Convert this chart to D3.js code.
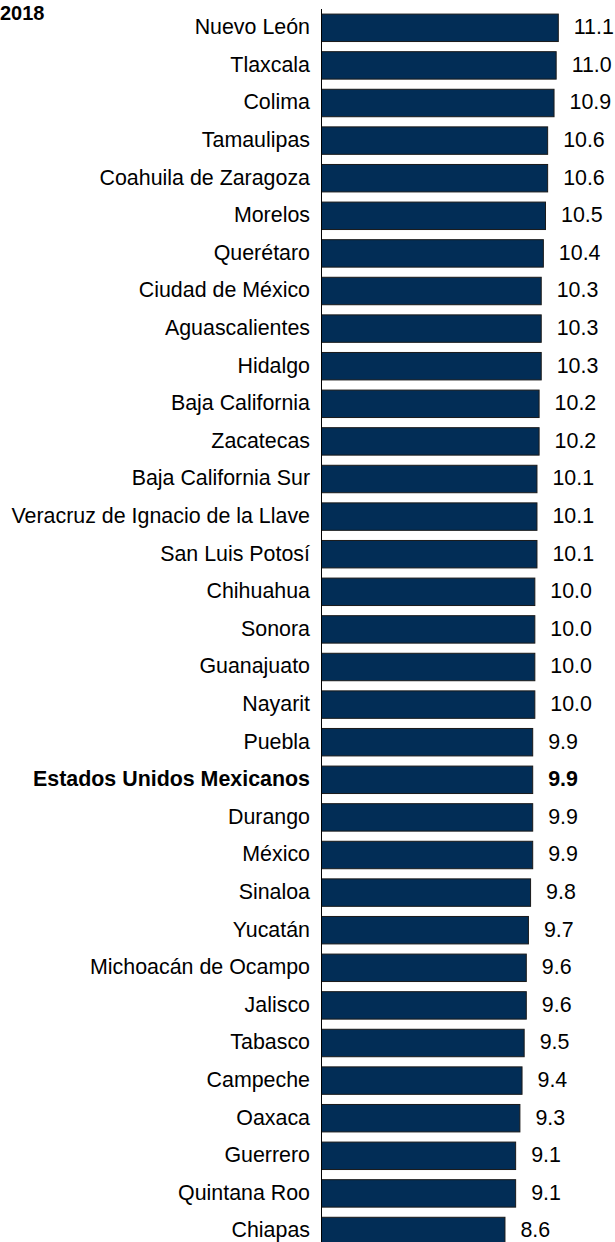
<!DOCTYPE html>
<html>
<head>
<meta charset="utf-8">
<script src="https://cdn.jsdelivr.net/npm/d3@7"></script>
<style>
  html, body { margin: 0; padding: 0; background: #ffffff; }
  svg { display: block; }
  text { font-family: "Liberation Sans", Arial, Helvetica, sans-serif; }
</style>
</head>
<body>
<svg id="chart" width="615" height="1242"></svg>
<script>
const title = "2018";
const categories = [
  "Nuevo León", "Tlaxcala", "Colima", "Tamaulipas", "Coahuila de Zaragoza",
  "Morelos", "Querétaro", "Ciudad de México", "Aguascalientes", "Hidalgo",
  "Baja California", "Zacatecas", "Baja California Sur", "Veracruz de Ignacio de la Llave",
  "San Luis Potosí", "Chihuahua", "Sonora", "Guanajuato", "Nayarit", "Puebla",
  "Estados Unidos Mexicanos", "Durango", "México", "Sinaloa", "Yucatán",
  "Michoacán de Ocampo", "Jalisco", "Tabasco", "Campeche", "Oaxaca",
  "Guerrero", "Quintana Roo", "Chiapas"
];
const values = [
  11.1, 11.0, 10.9, 10.6, 10.6,
  10.5, 10.4, 10.3, 10.3, 10.3,
  10.2, 10.2, 10.1, 10.1,
  10.1, 10.0, 10.0, 10.0, 10.0, 9.9,
  9.9, 9.9, 9.9, 9.8, 9.7,
  9.6, 9.6, 9.5, 9.4, 9.3,
  9.1, 9.1, 8.6
];
const highlight = ["Estados Unidos Mexicanos"];

const data = categories.map((c, i) => ({ cat: c, val: values[i] }));

const svg = d3.select("#chart");
const axisX = 321;

const x = d3.scaleLinear().domain([0, 12]).range([axisX, axisX + 256]);
const y = d3.scaleBand().domain(categories).range([9, 9 + 37.6 * categories.length])
  .paddingInner(0.27).paddingOuter(0.135);

// title
svg.append("text")
  .attr("x", 0).attr("y", 19.5)
  .attr("font-size", 20).attr("font-weight", "bold").attr("fill", "#000")
  .text(title);

// bars
svg.selectAll("rect.bar").data(data).enter().append("rect")
  .attr("class", "bar")
  .attr("x", x(0) + 0.5)
  .attr("y", d => y(d.cat))
  .attr("width", d => x(d.val) - x(0))
  .attr("height", y.bandwidth())
  .attr("fill", "#022d56")
  .attr("stroke", "#1a1a1a")
  .attr("stroke-width", 1);

// axis line
const yAxis = d3.axisLeft(y).tickSize(0).tickFormat("");
svg.append("g")
  .attr("transform", `translate(${axisX + 0.5},0)`)
  .call(yAxis)
  .call(g => g.select(".domain").attr("d", `M0,9V1242`).attr("stroke", "#000").attr("stroke-width", 1));

// category labels
svg.selectAll("text.cat").data(data).enter().append("text")
  .attr("class", "cat")
  .attr("x", 310)
  .attr("y", d => y(d.cat) + y.bandwidth() / 2)
  .attr("dy", "0.3em")
  .attr("text-anchor", "end")
  .attr("font-size", 21.4)
  .attr("font-weight", d => highlight.includes(d.cat) ? "bold" : "normal")
  .attr("fill", "#000")
  .text(d => d.cat);

// value labels
svg.selectAll("text.val").data(data).enter().append("text")
  .attr("class", "val")
  .attr("x", d => x(d.val) + 16)
  .attr("y", d => y(d.cat) + y.bandwidth() / 2)
  .attr("dy", "0.3em")
  .attr("font-size", 21.4)
  .attr("font-weight", d => highlight.includes(d.cat) ? "bold" : "normal")
  .attr("fill", "#000")
  .text(d => d.val.toFixed(1));
</script>
</body>
</html>
